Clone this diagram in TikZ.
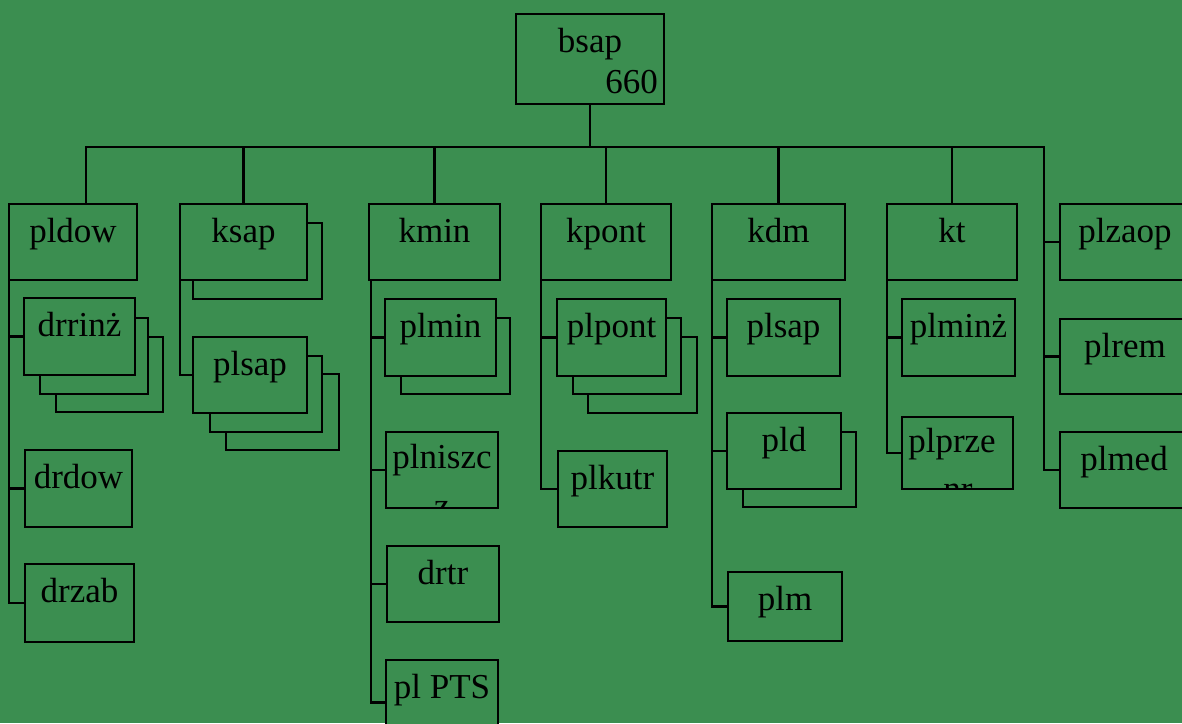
\documentclass[tikz,border=0pt]{standalone}
\usepackage{fontspec}
\setmainfont{Liberation Serif}
\usetikzlibrary{fit,calc}
\definecolor{bg}{RGB}{59,142,80}
\tikzset{
  box/.style={draw=black, fill=bg, line width=2.2pt, inner sep=0pt, outer sep=0pt},
  txt/.style={font=\fontsize{35}{42}\selectfont, inner sep=0pt, anchor=base, text=black},
  wire/.style={draw=black, line width=2.2pt, line cap=rect}
}
\newcommand\bx[5]{\node[box, fit={(#2,#3) (#4,#5)}] (#1) {};}
\newcommand\lbl[2]{\node[txt] at ($(#1.north)+(0,38)$) {#2};}
\begin{document}
\begin{tikzpicture}[x=1pt,y=-1pt]
\useasboundingbox (0,0) rectangle (1182,723);
\clip (0,0) rectangle (1182,723);
\fill[bg] (0,0) rectangle (1182,723);

% top
\bx{bsap}{516}{14}{664}{104}
\node[txt] at (590,52) {bsap};
\node[txt, anchor=base east] at (658,93) {660};

% level 2
\bx{pldow}{9}{204}{137}{280}\lbl{pldow}{pldow}
\bx{ksapB}{193}{223}{322}{299}
\bx{ksap}{180}{204}{307}{280}\lbl{ksap}{ksap}
\bx{kmin}{369}{204}{500}{280}\lbl{kmin}{kmin}
\bx{kpont}{541}{204}{671}{280}\lbl{kpont}{kpont}
\bx{kdm}{712}{204}{845}{280}\lbl{kdm}{kdm}
\bx{kt}{887}{204}{1017}{280}\lbl{kt}{kt}
\bx{plzaop}{1060}{204}{1192}{280}\node[txt] at (1125,242) {plzaop};
\bx{plrem}{1060}{319}{1192}{394}\node[txt] at (1125,357) {plrem};
\bx{plmed}{1060}{432}{1192}{508}\node[txt] at (1124,470) {plmed};

% column 1
\bx{drrinzC}{56}{337}{163}{412}
\bx{drrinzB}{40}{318}{148}{394}
\bx{drrinz}{24}{298}{135}{375}\lbl{drrinz}{drrinż}
\bx{drdow}{25}{450}{132}{527}\lbl{drdow}{drdow}
\bx{drzab}{25}{564}{134}{642}\lbl{drzab}{drzab}

% column 2
\bx{plsapC}{226}{374}{339}{450}
\bx{plsapB}{210}{356}{322}{432}
\bx{plsap}{193}{337}{307}{413}\lbl{plsap}{plsap}

% column 3
\bx{plminB}{401}{318}{510}{394}
\bx{plmin}{385}{299}{496}{376}\lbl{plmin}{plmin}
\bx{plniszcz}{386}{432}{498}{508}
\node[txt] at (442,468) {plniszc};
\begin{scope}
\clip (plniszcz.north west) rectangle (plniszcz.south east);
\node[txt] at (442,517) {z};
\end{scope}
\bx{drtr}{387}{546}{499}{622}\lbl{drtr}{drtr}
\bx{plPTS}{386}{660}{498}{745}\lbl{plPTS}{pl PTS}

% column 4
\bx{plpontC}{588}{337}{697}{413}
\bx{plpontB}{573}{318}{681}{394}
\bx{plpont}{557}{299}{666}{376}\lbl{plpont}{plpont}
\bx{plkutr}{558}{451}{667}{527}\lbl{plkutr}{plkutr}

% column 5
\bx{plsapK}{727}{299}{840}{376}\lbl{plsapK}{plsap}
\bx{pldB}{743}{432}{856}{507}
\bx{pld}{727}{413}{841}{489}\lbl{pld}{pld}
\bx{plm}{728}{572}{842}{641}\lbl{plm}{plm}

% column 6
\bx{plminz}{902}{299}{1015}{376}\lbl{plminz}{plminż}
\bx{plprzenr}{902}{417}{1013}{489}
\node[txt] at (952,452) {plprze};
\begin{scope}
\clip (plprzenr.north west) rectangle (plprzenr.south east);
\node[txt] at (958,500) {nr};
\end{scope}

% bus and drops
\coordinate (lastdrop) at (1044,147);
\draw[wire] (bsap.south) |- ($(pldow.north)+(13,-57)$) -- ($(pldow.north)+(13,0)$);
\foreach \c in {ksap,kmin,kpont,kdm,kt}
  \draw[wire] (bsap.south) |- ($(\c.north)+(0,-57)$) -- (\c.north);
\draw[wire] (bsap.south) |- (lastdrop) |- (plmed.west);
\draw[wire] (lastdrop) |- (plzaop.west);
\draw[wire] (lastdrop) |- (plrem.west);

% trunks
\foreach \c in {drrinz,drdow,drzab} \draw[wire] (pldow.south west) |- (\c.west);
\draw[wire] (ksap.south west) |- (plsap.west);
\foreach \c in {plmin,plniszcz,drtr,plPTS} \draw[wire] ($(kmin.south west)+(2,0)$) |- (\c.west);
\foreach \c in {plpont,plkutr} \draw[wire] (kpont.south west) |- (\c.west);
\foreach \c in {plsapK,pld,plm} \draw[wire] (kdm.south west) |- (\c.west);
\foreach \c in {plminz,plprzenr} \draw[wire] (kt.south west) |- (\c.west);
\end{tikzpicture}
\end{document}
